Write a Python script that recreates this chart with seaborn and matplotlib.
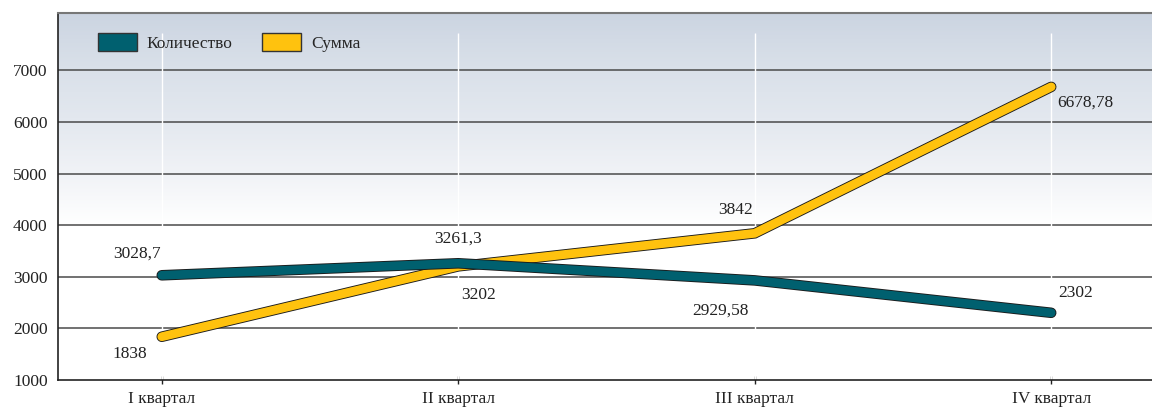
import numpy as np
import pandas as pd
import matplotlib
matplotlib.use("Agg")
import matplotlib.pyplot as plt
import matplotlib.patheffects as pe
from matplotlib.patches import Patch
import seaborn as sns

# data
quarters = ["I квартал", "II квартал", "III квартал", "IV квартал"]
count_vals = [3028.7, 3261.3, 2929.58, 2302]
sum_vals = [1838, 3202, 3842, 6678.78]
count_labels = ["3028,7", "3261,3", "2929,58", "2302"]
sum_labels = ["1838", "3202", "3842", "6678,78"]
series_names = ["Количество", "Сумма"]
colors = ["#00606F", "#FFC20E"]
y_ticks = [1000, 2000, 3000, 4000, 5000, 6000, 7000]

df = pd.DataFrame({
    "x": list(range(len(quarters))) * 2,
    "value": count_vals + sum_vals,
    "series": [series_names[0]] * 4 + [series_names[1]] * 4,
})

sns.set_style("white")
plt.rcParams["font.family"] = ["Liberation Serif", "DejaVu Serif"]

fig = plt.figure(figsize=(11.52, 4.09), dpi=100)
ax = fig.add_axes([58 / 1152, 29 / 409, 1094 / 1152, 367 / 409])

ax.set_xlim(-0.35, 3.34)
ax.set_ylim(1000, 8110)

# gradient background: blue-grey at the top fading to white at 4000
grad = np.linspace(0, 1, 256).reshape(-1, 1)
cmap = matplotlib.colors.LinearSegmentedColormap.from_list(
    "bg", ["#cbd4e1", "#d9e0e9", "#e3e8ef", "#f0f2f6", "#ffffff"])
ax.imshow(grad, aspect="auto", cmap=cmap, origin="upper",
          extent=[-0.35, 3.34, 4000, 8110], zorder=0)

for y in y_ticks[1:]:
    ax.axhline(y, color="#4a4a4a", lw=1.1, zorder=1)
for i in range(len(quarters)):
    ax.vlines(i, 1000, 7720, color="white", lw=1.0, zorder=1)

sns.lineplot(data=df, x="x", y="value", hue="series", palette=colors,
             legend=False, ax=ax, lw=6.3, sort=False)
lines = ax.get_lines()[-2:]
for line, z in zip(lines, [4, 3]):
    line.set_zorder(z)
    line.set_solid_capstyle("round")
    line.set_solid_joinstyle("miter")
    line.set_path_effects([pe.Stroke(linewidth=7.6, foreground="#1a1a1a"),
                           pe.Normal()])

# value labels
fs = 12.5
c_off = [(-0.085, 413), (0.0, 484), (-0.115, -589), (0.081, 384)]
s_off = [(-0.108, -335), (0.068, -562), (-0.064, 450), (0.115, -312)]
for i in range(4):
    ax.text(i + c_off[i][0], count_vals[i] + c_off[i][1], count_labels[i],
            ha="center", va="center", fontsize=fs, color="#222222")
    ax.text(i + s_off[i][0], sum_vals[i] + s_off[i][1], sum_labels[i],
            ha="center", va="center", fontsize=fs, color="#222222")

ax.set_xticks(range(len(quarters)))
ax.set_xticklabels(quarters, fontsize=12.5, color="#222222")
ax.set_yticks(y_ticks)
ax.set_yticklabels([str(v) for v in y_ticks], fontsize=12.5, color="#222222")
ax.tick_params(axis="x", bottom=True, length=6, width=1, color="#222222", pad=5,
               direction="inout")
ax.tick_params(axis="y", left=False, pad=4)
ax.set_xlabel("")
ax.set_ylabel("")

ax.spines["right"].set_visible(False)
ax.spines["top"].set_color("#777777")
ax.spines["top"].set_linewidth(1.5)
for s in ["left", "bottom"]:
    ax.spines[s].set_color("#222222")
    ax.spines[s].set_linewidth(1.2)

handles = [Patch(facecolor=c, edgecolor="#333333", lw=1) for c in colors]
ax.legend(handles, series_names, loc="upper left", ncol=2, frameon=False,
          bbox_to_anchor=(0.022, 0.988), fontsize=12.5, handlelength=2.25,
          handleheight=1.2, handletextpad=0.57, columnspacing=1.7)

fig.savefig("out.png", dpi=100)
